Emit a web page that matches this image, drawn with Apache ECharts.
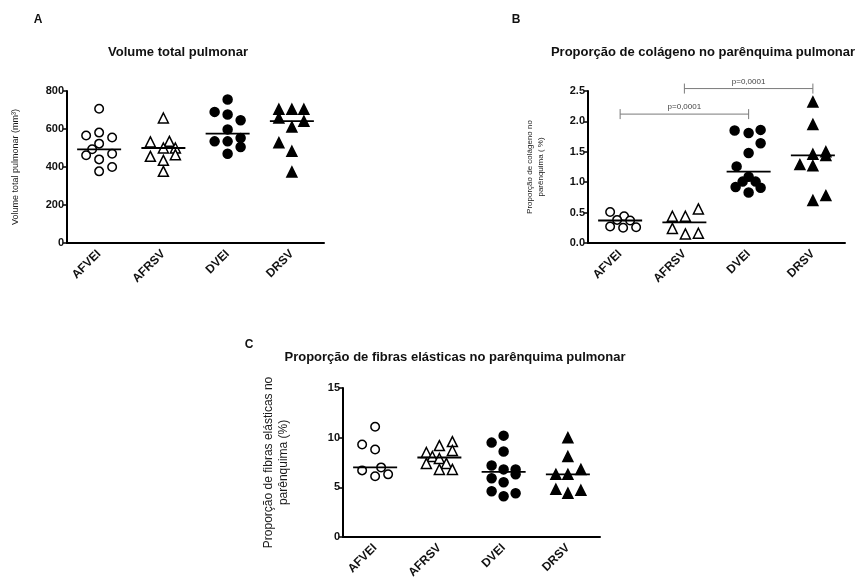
<!DOCTYPE html>
<html>
<head>
<meta charset="utf-8">
<script src="https://cdn.jsdelivr.net/npm/echarts@6/dist/echarts.min.js"></script>
<style>
  html, body { margin: 0; padding: 0; background: #fff; }
  #chart { width: 865px; height: 581px; }
</style>
</head>
<body>
<div id="chart"></div>
<script>
const categories = ['AFVEI', 'AFRSV', 'DVEI', 'DRSV']

// A - volume total pulmonar (mm3)
const volAFVEI = [707, 566, 581, 555, 523, 493, 462, 470, 440, 377, 400]
const volAFRSV = [658, 532, 535, 500, 500, 465, 456, 435, 377]
const volDVEI = [755, 690, 676, 646, 598, 535, 535, 553, 505, 470]
const volDRSV = [704, 704, 704, 658, 611, 641, 528, 483, 374]
const volTicks = [0, 200, 400, 600, 800]

// B - colageno (%)
const colAFVEI = [0.51, 0.44, 0.38, 0.37, 0.27, 0.25, 0.26]
const colAFRSV = [0.44, 0.44, 0.56, 0.24, 0.15, 0.16]
const colDVEI = [1.85, 1.81, 1.86, 1.64, 1.48, 1.26, 1.09, 1.01, 1.01, 0.92, 0.91, 0.83]
const colDRSV = [2.32, 1.95, 1.46, 1.29, 1.27, 1.50, 1.44, 0.70, 0.78]
const colTicks = [0, 0.5, 1.0, 1.5, 2.0, 2.5]
const colBrackets = [
  { from: 1, to: 3, y: 2.54, label: 'p=0,0001' },
  { from: 0, to: 2, y: 2.12, label: 'p=0,0001' },
]

// C - fibras elasticas (%)
const elaAFVEI = [11.1, 9.3, 8.8, 6.7, 7.0, 6.1, 6.3]
const elaAFRSV = [9.6, 9.2, 8.7, 8.5, 8.1, 7.9, 7.4, 7.4, 6.8, 6.8]
const elaDVEI = [10.2, 9.5, 8.6, 7.2, 6.8, 6.8, 6.3, 5.9, 5.5, 4.6, 4.4, 4.1]
const elaDRSV = [10.0, 8.1, 6.8, 6.3, 6.3, 4.8, 4.7, 4.4]
const elaTicks = [0, 5, 10, 15]

// horizontal scatter (px) so points don't sit on top of each other
const jitter = {
  volAFVEI: [0, -13, 0, 13, 0, -7, -13, 13, 0, 0, 13],
  volAFRSV: [0, -13, 6, 0, 12, 12, -13, 0, 0],
  volDVEI: [0, -13, 0, 13, 0, -13, 0, 13, 13, 0],
  volDRSV: [-13, 0, 12, -13, 0, 12, -13, 0, 0],
  colAFVEI: [-10, 4, -3, 10, -10, 3, 16],
  colAFRSV: [-12, 1, 14, -12, 1, 14],
  colDVEI: [-14, 0, 12, 12, 0, -12, 0, -6, 7, -13, 12, 0],
  colDRSV: [0, 0, 0, -13, 0, 13, 13, 0, 13],
  elaAFVEI: [0, -13, 0, -13, 6, 0, 13],
  elaAFRSV: [13, 0, 13, -13, -7, 0, -13, 7, 0, 13],
  elaDVEI: [0, -12, 0, -12, 0, 12, 12, -12, 0, -12, 12, 0],
  elaDRSV: [0, 0, 13, -12, 0, -12, 13, 0],
}

const FONT = '"Liberation Sans", Arial, sans-serif'

const median = arr => {
  const s = [...arr].sort((a, b) => a - b)
  const m = Math.floor(s.length / 2)
  return s.length % 2 ? s[m] : (s[m - 1] + s[m]) / 2
}

const markers = [
  { symbol: 'circle', size: 8.5, fill: '#fff' },
  { symbol: 'triangle', size: 10, fill: '#fff' },
  { symbol: 'circle', size: 9, fill: '#000' },
  { symbol: 'triangle', size: 10, fill: '#000' },
]

const panels = [
  { key: 'vol', groups: [volAFVEI, volAFRSV, volDVEI, volDRSV] },
  { key: 'col', groups: [colAFVEI, colAFRSV, colDVEI, colDRSV] },
  { key: 'ela', groups: [elaAFVEI, elaAFRSV, elaDVEI, elaDRSV] },
]

const grids = [
  { left: 67, top: 91, width: 257, height: 152 },
  { left: 588, top: 91, width: 257, height: 152 },
  { left: 343, top: 388, width: 257, height: 152 },
]

const tickSets = [volTicks, colTicks, elaTicks]
const yNames = [
  'Volume total pulmonar (mm³)',
  'Proporção de colágeno no\nparênquima ( %)',
  'Proporção de fibras elásticas no\nparênquima (%)',
]
const yNameStyle = [
  { fontSize: 9, gap: 45 },
  { fontSize: 8, gap: 42 },
  { fontSize: 12, gap: 52 },
]

const xAxis = grids.map((_, i) => ({
  type: 'category',
  gridIndex: i,
  data: categories,
  boundaryGap: true,
  axisLine: { lineStyle: { color: '#000', width: 2 } },
  axisTick: { alignWithLabel: true, length: 5, lineStyle: { color: '#000', width: 1.5 } },
  axisLabel: { rotate: 45, margin: 9, color: '#111', fontSize: 12, fontWeight: 'bold', fontFamily: FONT },
  splitLine: { show: false },
}))

const yAxis = grids.map((_, i) => {
  const ticks = tickSets[i]
  return {
    type: 'value',
    gridIndex: i,
    min: ticks[0],
    max: ticks[ticks.length - 1],
    interval: ticks[1] - ticks[0],
    name: yNames[i],
    nameLocation: 'middle',
    nameGap: yNameStyle[i].gap,
    nameTextStyle: { fontSize: yNameStyle[i].fontSize, color: '#1a1a1a', fontFamily: FONT, lineHeight: yNameStyle[i].fontSize + 3 },
    axisLine: { show: true, lineStyle: { color: '#000', width: 2 } },
    axisTick: { show: true, length: 4, lineStyle: { color: '#000', width: 1.5 } },
    axisLabel: {
      margin: 3,
      color: '#111',
      fontSize: 11,
      fontWeight: 'bold',
      fontFamily: FONT,
      formatter: v => (i === 1 ? v.toFixed(1) : String(v)),
    },
    splitLine: { show: false },
  }
})

const series = []
panels.forEach((panel, p) => {
  panel.groups.forEach((vals, g) => {
    const m = markers[g]
    const offs = jitter[panel.key + categories[g]]
    series.push({
      type: 'scatter',
      xAxisIndex: p,
      yAxisIndex: p,
      symbol: m.symbol,
      symbolSize: m.size,
      itemStyle: { color: m.fill, borderColor: '#000', borderWidth: 1.5, opacity: 1 },
      data: vals.map((v, k) => ({ value: [g, v], symbolOffset: [offs[k], 0] })),
      z: 2,
    })
  })
  // median lines
  series.push({
    type: 'custom',
    xAxisIndex: p,
    yAxisIndex: p,
    z: 3,
    data: panel.groups.map((vals, g) => [g, median(vals)]),
    renderItem: (params, api) => {
      const c = api.coord([api.value(0), api.value(1)])
      return {
        type: 'line',
        shape: { x1: c[0] - 22, y1: c[1], x2: c[0] + 22, y2: c[1] },
        style: { stroke: '#000', lineWidth: 1.8 },
      }
    },
  })
})

// significance brackets on B
series.push({
  type: 'custom',
  xAxisIndex: 1,
  yAxisIndex: 1,
  clip: false,
  z: 4,
  data: colBrackets.map(b => [b.from, b.to, b.y]),
  renderItem: (params, api) => {
    const a = api.coord([api.value(0), api.value(2)])
    const b = api.coord([api.value(1), api.value(2)])
    const stroke = { stroke: '#7a7a7a', lineWidth: 1 }
    return {
      type: 'group',
      children: [
        { type: 'line', shape: { x1: a[0], y1: a[1], x2: b[0], y2: b[1] }, style: stroke },
        { type: 'line', shape: { x1: a[0], y1: a[1] - 5, x2: a[0], y2: a[1] + 5 }, style: stroke },
        { type: 'line', shape: { x1: b[0], y1: b[1] - 5, x2: b[0], y2: b[1] + 5 }, style: stroke },
        {
          type: 'text',
          x: (a[0] + b[0]) / 2,
          y: a[1] - 3,
          style: {
            text: colBrackets[params.dataIndex].label,
            fill: '#444',
            font: '8px ' + FONT,
            align: 'center',
            verticalAlign: 'bottom',
          },
        },
      ],
    }
  },
})

const label = (text, x, y, size) => ({
  type: 'text',
  x,
  y,
  style: { text, fill: '#111', font: 'bold ' + size + 'px ' + FONT, align: 'center', verticalAlign: 'middle' },
})

const chart = echarts.init(document.getElementById('chart'), null, { renderer: 'canvas' })
chart.setOption({
  backgroundColor: '#fff',
  animation: false,
  grid: grids.map(g => ({ ...g, containLabel: false })),
  xAxis,
  yAxis,
  series,
  graphic: [
    label('A', 38, 20, 12),
    label('B', 516, 20, 12),
    label('C', 249, 345, 12),
    label('Volume total pulmonar', 178, 52, 13),
    label('Proporção de colágeno no parênquima pulmonar', 703, 52, 13),
    label('Proporção de fibras elásticas no parênquima pulmonar', 455, 357, 13),
  ],
})
</script>
</body>
</html>
